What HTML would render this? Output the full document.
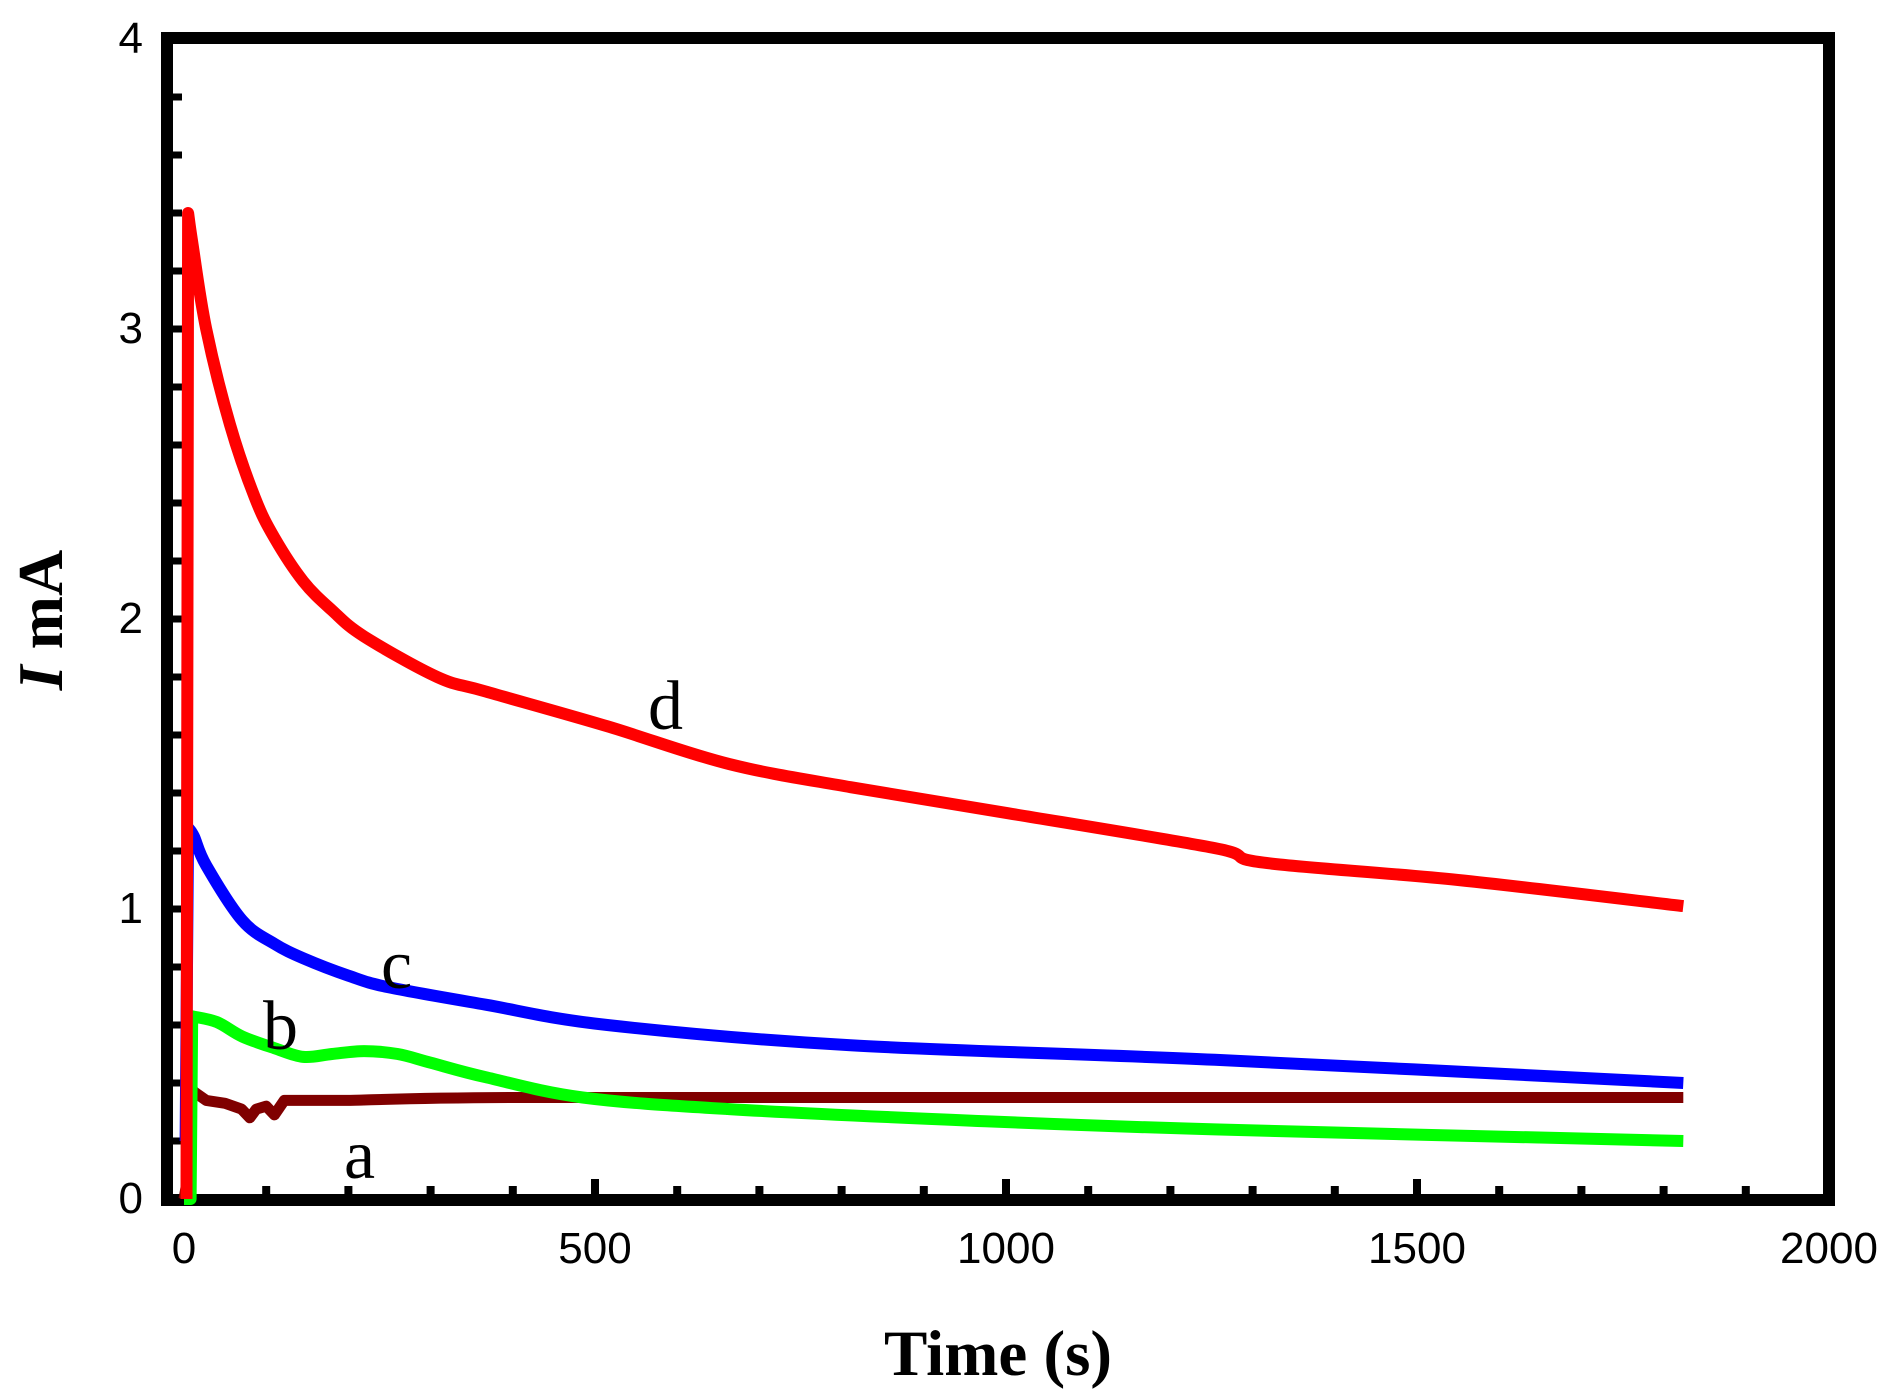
<!DOCTYPE html>
<html><head><meta charset="utf-8"><style>
html,body{margin:0;padding:0;background:#fff;}
svg{display:block;}
</style></head><body>
<svg id="s" width="1895" height="1400" xmlns="http://www.w3.org/2000/svg">
<rect x="167" y="38" width="1662" height="1162" fill="none" stroke="#000" stroke-width="12"/>
<g id="ticks" fill="#000"></g>
<g id="curves" fill="none" stroke-linejoin="round" stroke-linecap="butt"></g>
<g font-family="Liberation Sans, sans-serif" font-size="44" fill="#000" text-anchor="end">
<text x="143" y="53">4</text>
<text x="143" y="343">3</text>
<text x="143" y="633">2</text>
<text x="143" y="923">1</text>
<text x="143" y="1213">0</text>
</g>
<g font-family="Liberation Sans, sans-serif" font-size="44" fill="#000" text-anchor="middle">
<text x="184" y="1263">0</text>
<text x="595" y="1263">500</text>
<text x="1006" y="1263">1000</text>
<text x="1417" y="1263">1500</text>
<text x="1829" y="1263">2000</text>
</g>
<text x="998" y="1375" font-family="Liberation Serif, serif" font-weight="bold" font-size="65" text-anchor="middle">Time (s)</text>
<text transform="translate(62,620) rotate(-90)" font-family="Liberation Serif, serif" font-weight="bold" font-size="64" text-anchor="middle"><tspan font-style="italic">I</tspan> mA</text>
<g font-family="Liberation Serif, serif" font-size="70" fill="#000">
<text x="344" y="1178">a</text>
<text x="263" y="1049">b</text>
<text x="381" y="988">c</text>
<text x="648" y="729">d</text>
</g>
</svg>
<script>
var X=function(t){return 184+t*0.822;}, Y=function(i){return 1199-i*290;};
var tk=document.getElementById('ticks'),h='';
for(var k=1;k<20;k++){var v=k*0.2;if(Math.abs(v-Math.round(v))<1e-6)continue;h+='<rect x="173" y="'+(Y(v)-3.5)+'" width="9" height="7"/>';}
for(var k=1;k<4;k++){h+='<rect x="173" y="'+(Y(k)-3.5)+'" width="10" height="7"/>';}
for(var t=100;t<2000;t+=100){var maj=t%500==0;h+='<rect x="'+(X(t)-4)+'" y="'+(1194-(maj?15:8))+'" width="8" height="'+(maj?15:8)+'"/>';}
tk.innerHTML=h;
function path(pts,col,w,sharp){var P=pts.map(function(p){return [X(p[0]),Y(p[1])];});
var d='M'+P[0][0].toFixed(1)+','+P[0][1].toFixed(1);
for(var i=0;i<P.length-1;i++){
 if(i<sharp){d+='L'+P[i+1][0].toFixed(1)+','+P[i+1][1].toFixed(1);continue;}
 var p0=P[Math.max(i-1,sharp)],p1=P[i],p2=P[i+1],p3=P[Math.min(i+2,P.length-1)];
 var c1=[p1[0]+(p2[0]-p0[0])/6,p1[1]+(p2[1]-p0[1])/6],c2=[p2[0]-(p3[0]-p1[0])/6,p2[1]-(p3[1]-p1[1])/6];
 d+='C'+c1[0].toFixed(1)+','+c1[1].toFixed(1)+' '+c2[0].toFixed(1)+','+c2[1].toFixed(1)+' '+p2[0].toFixed(1)+','+p2[1].toFixed(1);}
return '<path d="'+d+'" stroke="'+col+'" stroke-width="'+w+'"/>';}
var a=[[0,0],[3,0.05],[5,0.4],[12,0.37],[27,0.34],[50,0.33],[70,0.31],[80,0.28],[88,0.31],[100,0.32],[110,0.29],[122,0.34],[200,0.34],[400,0.35],[1000,0.35],[1824,0.35]];
var b=[[0,0],[8,0],[10,0.63],[40,0.61],[71,0.56],[110,0.52],[145,0.49],[180,0.5],[219,0.51],[260,0.5],[300,0.47],[367,0.42],[485,0.35],[663,0.31],[959,0.27],[1254,0.24],[1824,0.20]];
var c=[[2,0.2],[5,1.28],[12,1.25],[27,1.15],[71,0.96],[110,0.88],[145,0.83],[200,0.77],[249,0.73],[367,0.67],[515,0.6],[811,0.53],[1254,0.48],[1824,0.4]];
var d=[[3,0],[5,3.4],[10,3.3],[27,3.0],[56,2.67],[86,2.42],[110,2.28],[145,2.13],[180,2.03],[219,1.94],[308,1.8],[367,1.75],[515,1.63],[663,1.5],[811,1.42],[1003,1.33],[1254,1.21],[1313,1.16],[1550,1.1],[1824,1.01]];
document.getElementById('curves').innerHTML=path(a,'#800000',11,12)+path(b,'#00ff00',12,2)+path(c,'#0000ff',12,1)+path(d,'#ff0000',12,1);
</script>
</body></html>
